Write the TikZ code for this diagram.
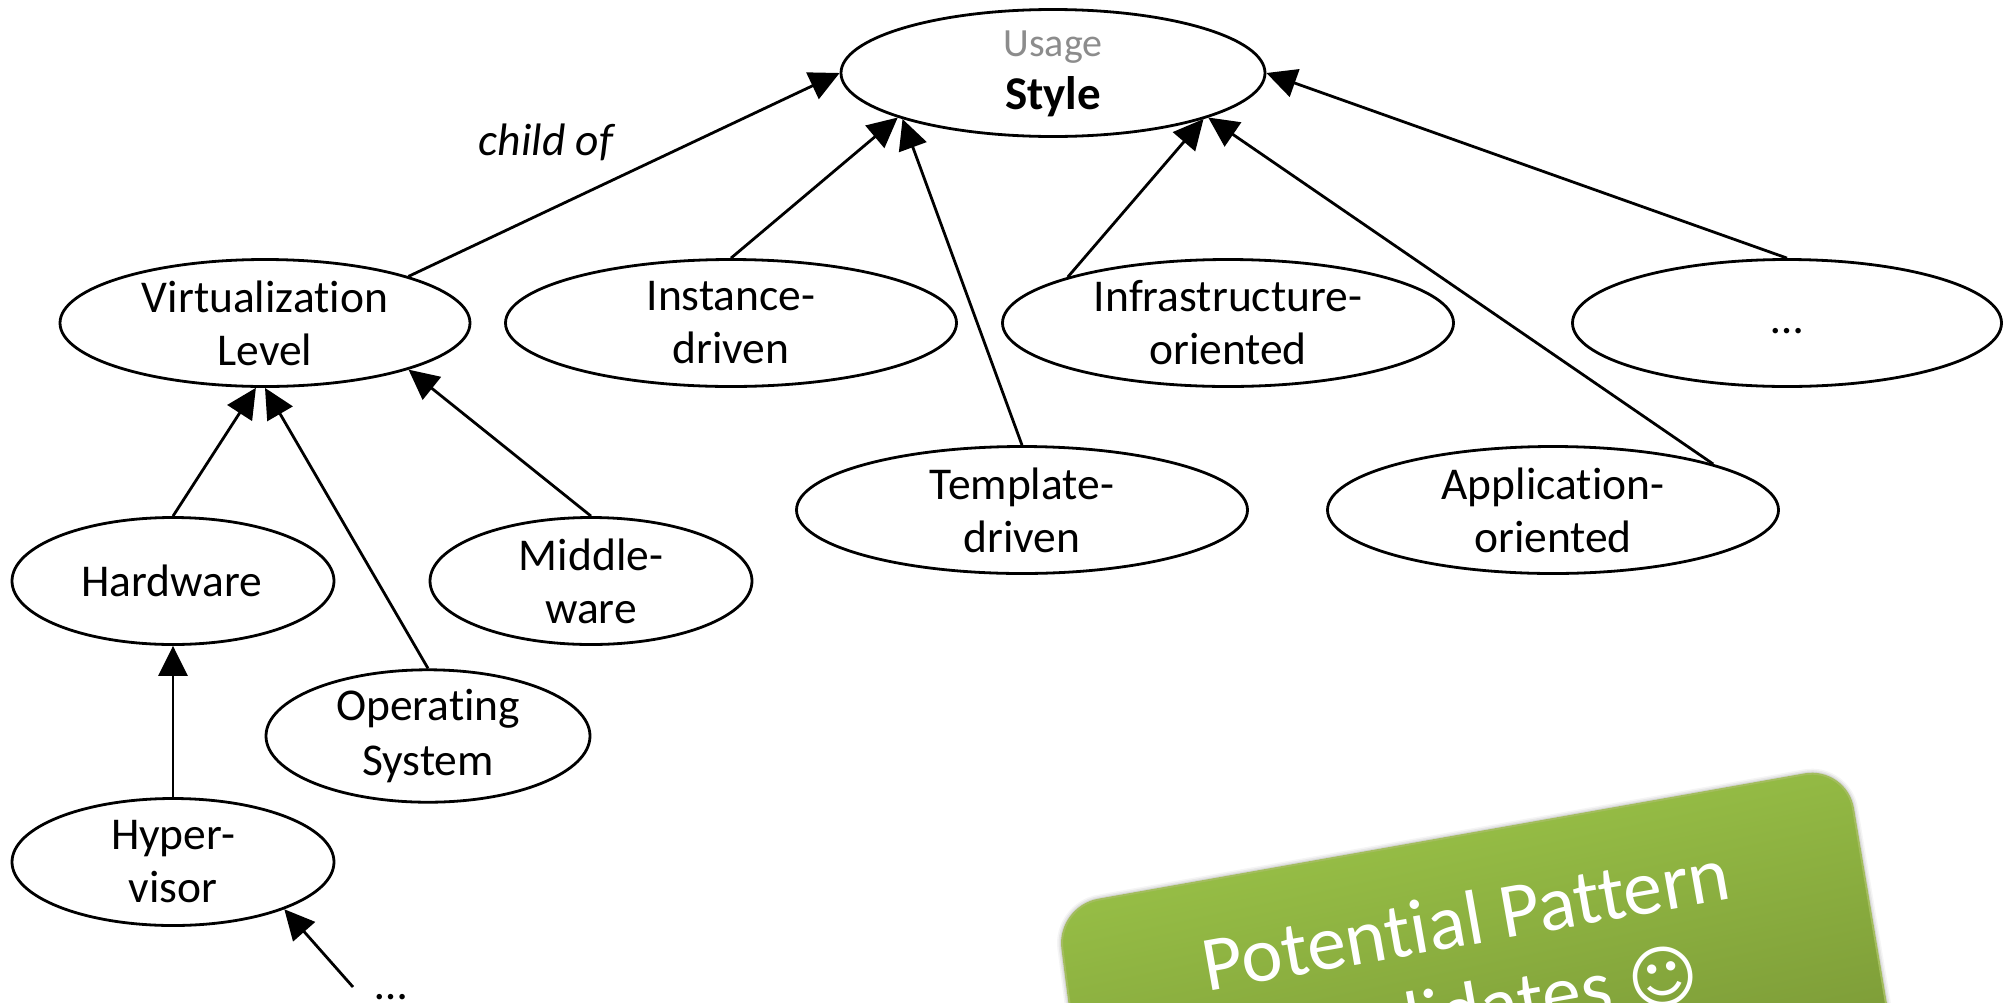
\documentclass[tikz,border=0pt]{standalone}
\usepackage{fontspec}
\setmainfont{Carlito}[Ligatures=NoCommon]
\newfontfamily\symfont{DejaVu Sans}
\usetikzlibrary{arrows.meta,shapes.geometric}
\definecolor{gtop}{HTML}{9EC84A}
\definecolor{gbot}{HTML}{7A9836}
\definecolor{gedge}{HTML}{A3BD5E}
\tikzset{
  oval/.style={ellipse,draw=black,line width=2.8pt,fill=white,inner sep=0pt,align=center,
    font=\fontsize{45.5}{53}\selectfont},
  sm/.style={oval,minimum width=322pt,minimum height=127pt},
  mid/.style={oval,minimum width=451pt,minimum height=127pt},
  link/.style={draw=black,line width=2.8pt,-{Triangle[length=30pt,width=29pt]},shorten >=0pt},
  lbl/.style={inner sep=0pt,font=\fontsize{45.5}{53}\selectfont},
}
\begin{document}
\begin{tikzpicture}[x=1pt,y=-1pt]
\useasboundingbox (0,0) rectangle (2008,1002);
\clip (0,0) rectangle (2008,1002);
% ovals
\node[oval,minimum width=424pt,minimum height=127pt] (usage) at (1053,73) {\raisebox{0pt}[27pt][8pt]{\fontsize{40}{53}\selectfont\textcolor[HTML]{8C8C8C}{Usage}}\\\raisebox{0pt}[27pt][8pt]{\fontsize{47}{53}\selectfont\textbf{Style}}};
\node[oval,minimum width=410pt,minimum height=127pt] (virt) at (265,323) {Virtualization\\Level};
\node[mid] (inst) at (731,323) {Instance-\\driven};
\node[mid] (infra) at (1228,323) {Infrastructure-\\oriented};
\node[oval,minimum width=429pt,minimum height=127pt] (more) at (1787,323) {\raisebox{0pt}[30pt][10pt]{…}};
\node[mid] (templ) at (1022,510) {Template-\\driven};
\node[mid] (appl) at (1553,510) {Application-\\oriented};
\node[sm] (hw) at (173,581) {Hardware\hspace*{3pt}};
\node[sm] (mw) at (591,581) {Middle-\\ware};
\node[oval,minimum width=324pt,minimum height=127pt] (os) at (428,736) {Operating\\[2pt]System};
\node[sm] (hyp) at (173,862) {Hyper-\\visor};
\node[lbl] (dots) at (391,997) {…};
\coordinate (dotsfoot) at (353,987);
\node[lbl,font=\fontsize{45.5}{53}\selectfont\itshape] (child) at (546,142) {child of};
% connectors
\path[link] (virt.18) -- (usage.180);
\path[link] (inst.90) -- (usage.196);
\path[link] (templ.90) -- (usage.197);
\path[link] (infra.164) -- (usage.343.5);
\path[link] (appl.16) -- (usage.344);
\path[link] (more.90) -- (usage.0);
\path[link] (hw.90) -- (virt.262);
\path[link] (os.90) -- (virt.270);
\path[link] (mw.90) -- (virt.342);
\path[link] (hyp.90) -- (hw.270);
\path[link] (dotsfoot) -- (hyp.337);
% panel
\coordinate (tl) at (1057,907);
\coordinate (tr) at (1846,767);
\coordinate (br) at (1898,1075);
\coordinate (bl) at (1082,1100);
\foreach \o/\w in {0.04/10,0.06/7,0.08/4}{
  \draw[black,opacity=\o,line width=\w pt,rounded corners=42pt] (tl) -- (tr) -- (br) -- (bl) -- cycle;
}
\draw[draw=gedge,line width=2pt,rounded corners=42pt,top color=gtop,middle color=gtop,bottom color=gbot,shading angle=12]
  (tl) -- (tr) -- (br) -- (bl) -- cycle;
\node[inner sep=0pt,rotate=10,align=center,text=white,font=\fontsize{78}{90}\selectfont] (pptext) at (1474,965)
  {Potential Pattern\\Candidates {\symfont\fontsize{68}{90}\selectfont ☺}};
\end{tikzpicture}
\end{document}
